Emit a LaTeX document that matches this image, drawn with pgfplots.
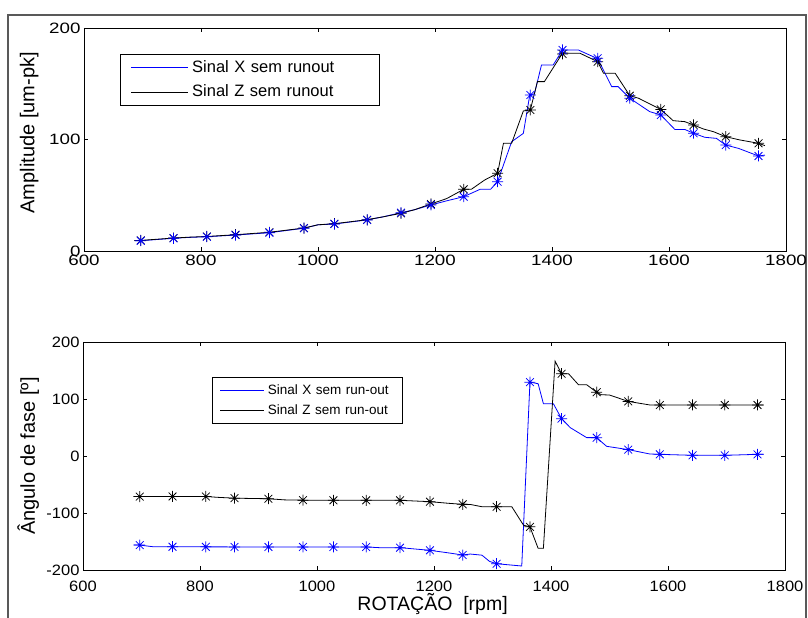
\documentclass[border=0pt]{standalone}
\usepackage{fontspec}
\setmainfont{Liberation Sans}
\newfontfamily\tickfontA{Liberation Sans}[FakeStretch=1.25]
\newfontfamily\tickfontB{Liberation Sans}[FakeStretch=1.1]
\usepackage{pgfplots}
\pgfplotsset{compat=1.18}

% MATLAB-style asterisk: plus and cross together
\pgfdeclareplotmark{mast}{%
  \pgfpathmoveto{\pgfqpoint{-\pgfplotmarksize}{0pt}}\pgfpathlineto{\pgfqpoint{\pgfplotmarksize}{0pt}}%
  \pgfpathmoveto{\pgfqpoint{0pt}{-\pgfplotmarksize}}\pgfpathlineto{\pgfqpoint{0pt}{\pgfplotmarksize}}%
  \pgfpathmoveto{\pgfqpoint{-.707\pgfplotmarksize}{-.707\pgfplotmarksize}}\pgfpathlineto{\pgfqpoint{.707\pgfplotmarksize}{.707\pgfplotmarksize}}%
  \pgfpathmoveto{\pgfqpoint{-.707\pgfplotmarksize}{.707\pgfplotmarksize}}\pgfpathlineto{\pgfqpoint{.707\pgfplotmarksize}{-.707\pgfplotmarksize}}%
  \pgfusepathqstroke}

\definecolor{mblue}{RGB}{0,0,255}

\pgfplotsset{
  matlab/.style={
    scale only axis, width=702pt,
    xmin=600, xmax=1800, xtick={600,800,...,1800},
    tick align=inside, major tick length=4pt,
    axis line style={line width=0.9pt},
    tick style={line width=0.7pt, black},
    /pgf/number format/assume math mode=true,
    /pgf/number format/1000 sep={},
    legend cell align=left,
  },
  sline/.style={line width=0.8pt, no marks},
  smark/.style={only marks, mark=mast, mark size=5.5pt, line width=0.75pt, forget plot},
  xcol/.style={color=mblue, draw=mblue},
  zcol/.style={color=black, draw=black},
  xleg/.style={legend image code/.code={\fill[fill=mblue, draw=none] (0pt,-0.45pt) rectangle (#1,0.45pt);}},
  zleg/.style={legend image code/.code={\fill[fill=black, draw=none] (0pt,-0.4pt) rectangle (#1,0.4pt);}},
}

\begin{document}
\begin{tikzpicture}[x=1pt,y=1pt]
\path[use as bounding box] (0,0) rectangle (808,618);
\draw[line width=1.2pt, black!65] (8,-5) -- (8,603) -- (806,603) -- (806,-5);

% ---------- amplitude ----------
\begin{axis}[matlab,
  at={(84pt,367pt)}, anchor=south west, height=223pt,
  ymin=0, ymax=200, ytick={0,100,200},
  ticklabel style={font=\tickfontA\fontsize{15}{17}\selectfont},
  ylabel={Amplitude [um-pk]},
  ylabel style={at={(axis description cs:-0.078,0.53)}, anchor=center,
    font=\fontsize{20}{22}\selectfont},
  legend style={at={(0.0513,0.883)}, anchor=north west,
    inner xsep=11pt, inner ysep=3.5pt, row sep=4pt,
    font=\fontsize{16.5}{18}\selectfont,
    nodes={text width=174pt, text height=11.5pt, text depth=3pt, inner ysep=2.8pt, inner xsep=2pt},
    /tikz/every odd column/.append style={column sep=2pt}},
]
\addplot[sline, xcol, xleg=57pt] coordinates {
 (686,9.2) (697,9.2) (753,11.4) (780,12.2) (810,12.8) (859,14.3) (917,16.4)
 (976,20.4) (1000,23.5) (1028,24.2) (1083,27.8) (1110,30.5) (1142,34.4)
 (1165,37) (1193,41.3) (1220,45) (1249,48.7) (1277,55.3) (1295,55.3)
 (1307,62.2) (1331,98) (1351,105.5) (1362,139.9) (1370,141) (1382,166.8)
 (1402,166.8) (1418,180.3) (1445,180.3) (1478,172.5) (1502,147.4)
 (1513,147.4) (1533,137) (1567,125) (1586,122) (1610,109) (1627,109)
 (1642,105.6) (1661,102) (1681,101) (1697,95) (1719,92) (1753,85.2) (1764,86)};
\addplot[sline, zcol, zleg=57pt] coordinates {
 (686,9.5) (697,9.5) (753,11.6) (780,12.4) (810,13) (859,14.6) (917,16.8)
 (976,20.6) (1000,23.5) (1028,24.5) (1083,28) (1110,30.5) (1142,33.8)
 (1165,37) (1193,42.2) (1220,47) (1249,55.3) (1262,55.3) (1285,63.7)
 (1307,69.7) (1317,96.6) (1331,96.6) (1351,125.6) (1363,126.5) (1375,151.9)
 (1387,151.9) (1418,177.5) (1448,177.3) (1478,169.8) (1488,159.4)
 (1508,159.4) (1533,139.3) (1548,137) (1586,127) (1607,116.9) (1627,116)
 (1642,113) (1659,109.4) (1676,107) (1697,102.5) (1721,99.6) (1753,96.6) (1764,94.5)};
\addplot[smark, zcol] coordinates {
 (697,9.5) (753,11.6) (810,13) (859,14.6) (917,16.8) (976,20.6) (1028,24.5)
 (1084,28) (1142,33.8) (1193,42.2) (1249,55.3) (1307,69.7) (1363,126.5)
 (1418,176.7) (1478,169.8) (1533,139.3) (1586,127) (1642,113) (1697,102.5) (1753,96.6)};
\addplot[smark, xcol] coordinates {
 (697,9.2) (753,11.4) (810,12.8) (859,14.3) (917,16.4) (976,20.4) (1028,24.2)
 (1084,27.8) (1142,34.4) (1193,41.3) (1249,48.7) (1307,62.2) (1363,139.9)
 (1418,180.3) (1478,172.8) (1533,137) (1586,122) (1642,105.6) (1697,95) (1753,85.2)};
\legend{Sinal X sem runout, Sinal Z sem runout}
\end{axis}

% ---------- phase ----------
\begin{axis}[matlab,
  at={(83pt,48pt)}, anchor=south west, height=228pt,
  ymin=-200, ymax=200, ytick={-200,-100,0,100,200},
  ticklabel style={font=\tickfontB\fontsize{15}{17}\selectfont},
  xticklabel style={yshift=-7pt},
  ylabel={Ângulo de fase [º]},
  ylabel style={at={(axis description cs:-0.078,0.5)}, anchor=center,
    font=\fontsize{20}{22}\selectfont},
  xlabel={ROTAÇÃO~~[rpm]},
  xlabel style={at={(axis description cs:0.498,-0.149)}, anchor=center,
    font=\fontsize{19.5}{21}\selectfont},
  legend style={at={(0.1833,0.845)}, anchor=north west,
    inner xsep=8pt, inner ysep=4pt, row sep=2pt,
    font=\fontsize{13.5}{16}\selectfont,
    nodes={text width=124pt, text height=10pt, text depth=3pt, inner ysep=2.5pt, inner xsep=2pt},
    /tikz/every odd column/.append style={column sep=2pt}},
]
\addplot[sline, xcol, xleg=44pt] coordinates {
 (686,-156.3) (697,-156.3) (720,-159.2) (753,-159.2) (810,-159.4) (859,-159.5)
 (917,-159.6) (976,-159.6) (1028,-159.6) (1084,-159.6) (1110,-161) (1142,-160.8)
 (1193,-165.5) (1225,-170) (1249,-173.7) (1262,-172) (1282,-174) (1295,-185)
 (1307,-189) (1350,-193) (1364,129.6) (1378,126.8) (1387,91.8) (1404,91.8)
 (1418,65.5) (1433,49.7) (1461,32.2) (1478,32.2) (1495,17) (1532,11.2)
 (1569,3.5) (1586,2.9) (1642,1.2) (1697,1.2) (1753,2.9) (1764,2.9)};
\addplot[sline, zcol, zleg=44pt] coordinates {
 (686,-71.2) (697,-71.2) (753,-71) (810,-71) (830,-72.5) (859,-74) (917,-75)
 (945,-77) (976,-77.5) (1028,-77.8) (1084,-77.8) (1142,-77.8) (1193,-80.1)
 (1225,-83) (1249,-84.8) (1262,-85) (1282,-89) (1307,-89) (1333,-89)
 (1353,-121.4) (1364,-124.3) (1378,-162) (1387,-162) (1407,166.4) (1418,144.3)
 (1430,144.3) (1447,125) (1461,125) (1478,112) (1486,107.5) (1500,107)
 (1532,95.8) (1569,89.5) (1586,89.5) (1642,89.5) (1697,89.5) (1753,89.5) (1764,89.5)};
\addplot[smark, zcol] coordinates {
 (697,-71.2) (753,-71) (810,-71) (859,-74) (917,-75) (976,-77.5) (1028,-77.8)
 (1084,-77.8) (1142,-77.8) (1193,-80.1) (1249,-84.8) (1307,-89) (1364,-124.3)
 (1418,144.3) (1478,112) (1532,95.8) (1586,89.5) (1642,89.5) (1697,89.5) (1753,89.5)};
\addplot[smark, xcol] coordinates {
 (697,-156.3) (753,-159.2) (810,-159.4) (859,-159.5) (917,-159.6) (976,-159.6)
 (1028,-159.6) (1084,-159.6) (1142,-160.8) (1193,-165.5) (1249,-173.7) (1307,-189)
 (1364,129.6) (1418,65.5) (1478,32.2) (1532,11.2) (1586,2.9) (1642,1.2) (1697,1.2) (1753,2.9)};
\legend{Sinal X sem run-out, Sinal Z sem run-out}
\end{axis}
\end{tikzpicture}
\end{document}
